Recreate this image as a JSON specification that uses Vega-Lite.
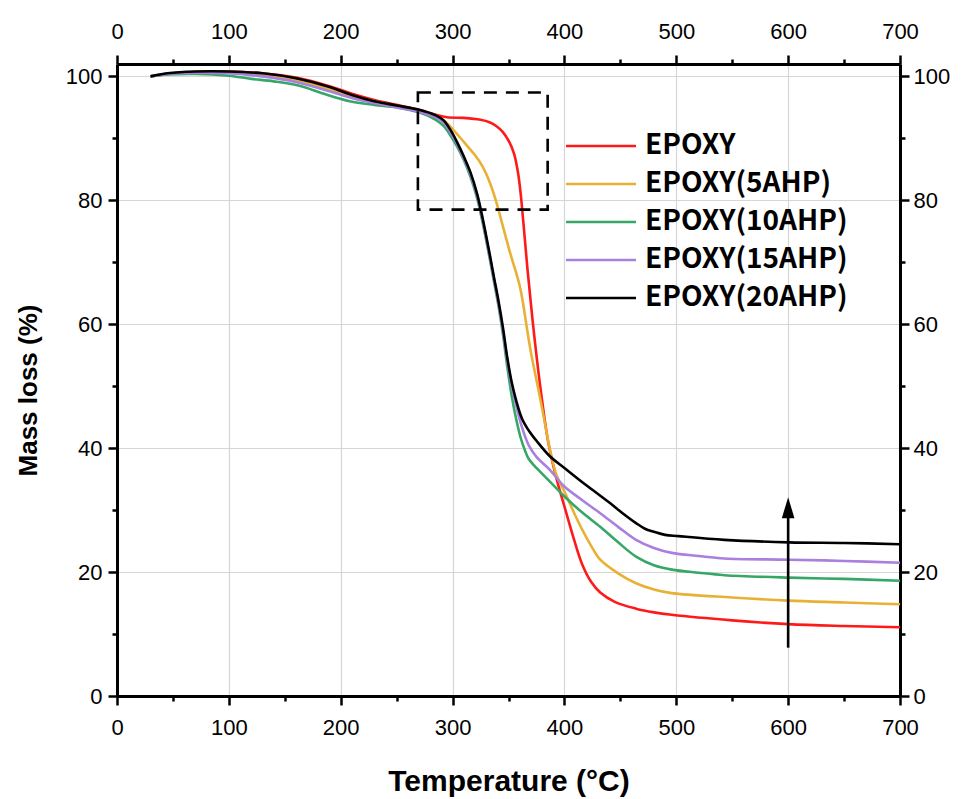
{
  "$schema": "https://vega.github.io/schema/vega-lite/v6.json",
  "width": 783,
  "height": 632,
  "autosize": {"type": "none"},
  "padding": {"left": 117, "top": 64, "right": 66, "bottom": 103},
  "background": "white",
  "config": {
    "view": {"stroke": null},
    "axis": {
      "domainColor": "black", "domainWidth": 3, "tickColor": "black", "tickWidth": 2.5,
      "labelFont": "Liberation Sans", "labelFontSize": 22, "labelColor": "black",
      "titleFont": "Liberation Sans", "titleFontWeight": "bold", "titleColor": "black",
      "labelFlush": false, "labelOverlap": false, "gridColor": "#d6d6d6", "gridWidth": 1.2
    }
  },
  "datasets": {
    "curves": [
      {"T":30,"mass":100.0,"sample":"EPOXY"},{"T":45,"mass":100.4,"sample":"EPOXY"},{"T":70,"mass":100.7,"sample":"EPOXY"},{"T":100,"mass":100.8,"sample":"EPOXY"},{"T":130,"mass":100.5,"sample":"EPOXY"},{"T":160,"mass":99.8,"sample":"EPOXY"},{"T":190,"mass":98.4,"sample":"EPOXY"},{"T":210,"mass":97.2,"sample":"EPOXY"},{"T":230,"mass":96.2,"sample":"EPOXY"},{"T":250,"mass":95.4,"sample":"EPOXY"},{"T":270,"mass":94.6,"sample":"EPOXY"},{"T":285,"mass":93.8,"sample":"EPOXY"},{"T":295,"mass":93.4,"sample":"EPOXY"},{"T":310,"mass":93.3,"sample":"EPOXY"},{"T":325,"mass":93.0,"sample":"EPOXY"},{"T":333,"mass":92.6,"sample":"EPOXY"},{"T":339,"mass":92.0,"sample":"EPOXY"},{"T":345,"mass":91.0,"sample":"EPOXY"},{"T":351,"mass":89.3,"sample":"EPOXY"},{"T":355,"mass":87.5,"sample":"EPOXY"},{"T":358,"mass":85.0,"sample":"EPOXY"},{"T":360,"mass":82.5,"sample":"EPOXY"},{"T":361.5,"mass":80.0,"sample":"EPOXY"},{"T":364,"mass":75.0,"sample":"EPOXY"},{"T":367,"mass":68.8,"sample":"EPOXY"},{"T":371.6,"mass":60.5,"sample":"EPOXY"},{"T":378,"mass":50.5,"sample":"EPOXY"},{"T":385,"mass":41.5,"sample":"EPOXY"},{"T":390,"mass":37.2,"sample":"EPOXY"},{"T":395,"mass":33.7,"sample":"EPOXY"},{"T":400,"mass":30.6,"sample":"EPOXY"},{"T":408,"mass":25.6,"sample":"EPOXY"},{"T":416,"mass":21.2,"sample":"EPOXY"},{"T":424,"mass":18.4,"sample":"EPOXY"},{"T":432,"mass":16.7,"sample":"EPOXY"},{"T":445,"mass":15.2,"sample":"EPOXY"},{"T":464,"mass":14.1,"sample":"EPOXY"},{"T":480,"mass":13.5,"sample":"EPOXY"},{"T":496,"mass":13.1,"sample":"EPOXY"},{"T":550,"mass":12.2,"sample":"EPOXY"},{"T":600,"mass":11.6,"sample":"EPOXY"},{"T":650,"mass":11.3,"sample":"EPOXY"},{"T":700,"mass":11.1,"sample":"EPOXY"},

      {"T":30,"mass":100.0,"sample":"EPOXY(5AHP)"},{"T":45,"mass":100.4,"sample":"EPOXY(5AHP)"},{"T":70,"mass":100.7,"sample":"EPOXY(5AHP)"},{"T":100,"mass":100.7,"sample":"EPOXY(5AHP)"},{"T":130,"mass":100.3,"sample":"EPOXY(5AHP)"},{"T":160,"mass":99.4,"sample":"EPOXY(5AHP)"},{"T":190,"mass":97.9,"sample":"EPOXY(5AHP)"},{"T":210,"mass":96.8,"sample":"EPOXY(5AHP)"},{"T":230,"mass":96.0,"sample":"EPOXY(5AHP)"},{"T":250,"mass":95.2,"sample":"EPOXY(5AHP)"},{"T":270,"mass":94.5,"sample":"EPOXY(5AHP)"},{"T":285,"mass":93.6,"sample":"EPOXY(5AHP)"},{"T":292,"mass":92.9,"sample":"EPOXY(5AHP)"},{"T":297,"mass":92.1,"sample":"EPOXY(5AHP)"},{"T":305,"mass":90.5,"sample":"EPOXY(5AHP)"},{"T":313,"mass":88.8,"sample":"EPOXY(5AHP)"},{"T":320,"mass":87.3,"sample":"EPOXY(5AHP)"},{"T":327,"mass":85.4,"sample":"EPOXY(5AHP)"},{"T":333,"mass":83.0,"sample":"EPOXY(5AHP)"},{"T":339,"mass":79.8,"sample":"EPOXY(5AHP)"},{"T":345,"mass":75.8,"sample":"EPOXY(5AHP)"},{"T":351,"mass":71.8,"sample":"EPOXY(5AHP)"},{"T":356,"mass":68.8,"sample":"EPOXY(5AHP)"},{"T":360,"mass":66.2,"sample":"EPOXY(5AHP)"},{"T":363,"mass":63.4,"sample":"EPOXY(5AHP)"},{"T":366,"mass":59.9,"sample":"EPOXY(5AHP)"},{"T":370,"mass":55.5,"sample":"EPOXY(5AHP)"},{"T":375,"mass":51.0,"sample":"EPOXY(5AHP)"},{"T":380,"mass":46.5,"sample":"EPOXY(5AHP)"},{"T":384,"mass":42.6,"sample":"EPOXY(5AHP)"},{"T":388,"mass":39.0,"sample":"EPOXY(5AHP)"},{"T":393,"mass":35.6,"sample":"EPOXY(5AHP)"},{"T":400,"mass":33.0,"sample":"EPOXY(5AHP)"},{"T":408,"mass":29.8,"sample":"EPOXY(5AHP)"},{"T":416,"mass":26.8,"sample":"EPOXY(5AHP)"},{"T":424,"mass":24.2,"sample":"EPOXY(5AHP)"},{"T":432,"mass":22.0,"sample":"EPOXY(5AHP)"},{"T":448,"mass":19.8,"sample":"EPOXY(5AHP)"},{"T":464,"mass":18.2,"sample":"EPOXY(5AHP)"},{"T":480,"mass":17.2,"sample":"EPOXY(5AHP)"},{"T":496,"mass":16.6,"sample":"EPOXY(5AHP)"},{"T":550,"mass":15.9,"sample":"EPOXY(5AHP)"},{"T":600,"mass":15.4,"sample":"EPOXY(5AHP)"},{"T":650,"mass":15.1,"sample":"EPOXY(5AHP)"},{"T":700,"mass":14.8,"sample":"EPOXY(5AHP)"},

      {"T":30,"mass":100.0,"sample":"EPOXY(10AHP)"},{"T":45,"mass":100.3,"sample":"EPOXY(10AHP)"},{"T":70,"mass":100.4,"sample":"EPOXY(10AHP)"},{"T":100,"mass":100.1,"sample":"EPOXY(10AHP)"},{"T":120,"mass":99.6,"sample":"EPOXY(10AHP)"},{"T":140,"mass":99.2,"sample":"EPOXY(10AHP)"},{"T":163,"mass":98.5,"sample":"EPOXY(10AHP)"},{"T":185,"mass":97.2,"sample":"EPOXY(10AHP)"},{"T":208,"mass":96.0,"sample":"EPOXY(10AHP)"},{"T":230,"mass":95.4,"sample":"EPOXY(10AHP)"},{"T":250,"mass":95.0,"sample":"EPOXY(10AHP)"},{"T":270,"mass":94.2,"sample":"EPOXY(10AHP)"},{"T":285,"mass":93.0,"sample":"EPOXY(10AHP)"},{"T":292,"mass":92.0,"sample":"EPOXY(10AHP)"},{"T":298,"mass":90.5,"sample":"EPOXY(10AHP)"},{"T":304,"mass":88.7,"sample":"EPOXY(10AHP)"},{"T":310,"mass":86.5,"sample":"EPOXY(10AHP)"},{"T":316,"mass":83.8,"sample":"EPOXY(10AHP)"},{"T":322,"mass":80.3,"sample":"EPOXY(10AHP)"},{"T":327,"mass":76.3,"sample":"EPOXY(10AHP)"},{"T":333,"mass":70.8,"sample":"EPOXY(10AHP)"},{"T":337,"mass":66.9,"sample":"EPOXY(10AHP)"},{"T":341,"mass":63.0,"sample":"EPOXY(10AHP)"},{"T":345,"mass":58.4,"sample":"EPOXY(10AHP)"},{"T":349,"mass":53.0,"sample":"EPOXY(10AHP)"},{"T":353,"mass":48.3,"sample":"EPOXY(10AHP)"},{"T":357,"mass":44.6,"sample":"EPOXY(10AHP)"},{"T":361,"mass":41.6,"sample":"EPOXY(10AHP)"},{"T":365,"mass":39.5,"sample":"EPOXY(10AHP)"},{"T":368,"mass":38.3,"sample":"EPOXY(10AHP)"},{"T":375,"mass":36.8,"sample":"EPOXY(10AHP)"},{"T":387,"mass":34.6,"sample":"EPOXY(10AHP)"},{"T":400,"mass":32.2,"sample":"EPOXY(10AHP)"},{"T":416,"mass":29.6,"sample":"EPOXY(10AHP)"},{"T":432,"mass":27.3,"sample":"EPOXY(10AHP)"},{"T":448,"mass":24.8,"sample":"EPOXY(10AHP)"},{"T":464,"mass":22.5,"sample":"EPOXY(10AHP)"},{"T":480,"mass":21.1,"sample":"EPOXY(10AHP)"},{"T":496,"mass":20.4,"sample":"EPOXY(10AHP)"},{"T":520,"mass":19.9,"sample":"EPOXY(10AHP)"},{"T":543,"mass":19.5,"sample":"EPOXY(10AHP)"},{"T":601,"mass":19.1,"sample":"EPOXY(10AHP)"},{"T":650,"mass":18.9,"sample":"EPOXY(10AHP)"},{"T":700,"mass":18.6,"sample":"EPOXY(10AHP)"},

      {"T":30,"mass":100.0,"sample":"EPOXY(15AHP)"},{"T":45,"mass":100.4,"sample":"EPOXY(15AHP)"},{"T":70,"mass":100.6,"sample":"EPOXY(15AHP)"},{"T":100,"mass":100.5,"sample":"EPOXY(15AHP)"},{"T":130,"mass":100.0,"sample":"EPOXY(15AHP)"},{"T":160,"mass":99.1,"sample":"EPOXY(15AHP)"},{"T":190,"mass":97.6,"sample":"EPOXY(15AHP)"},{"T":210,"mass":96.5,"sample":"EPOXY(15AHP)"},{"T":230,"mass":95.7,"sample":"EPOXY(15AHP)"},{"T":250,"mass":95.0,"sample":"EPOXY(15AHP)"},{"T":270,"mass":94.3,"sample":"EPOXY(15AHP)"},{"T":285,"mass":93.4,"sample":"EPOXY(15AHP)"},{"T":292,"mass":92.6,"sample":"EPOXY(15AHP)"},{"T":298,"mass":91.0,"sample":"EPOXY(15AHP)"},{"T":304,"mass":89.1,"sample":"EPOXY(15AHP)"},{"T":310,"mass":86.8,"sample":"EPOXY(15AHP)"},{"T":316,"mass":84.2,"sample":"EPOXY(15AHP)"},{"T":322,"mass":80.7,"sample":"EPOXY(15AHP)"},{"T":327,"mass":76.7,"sample":"EPOXY(15AHP)"},{"T":333,"mass":71.2,"sample":"EPOXY(15AHP)"},{"T":337,"mass":67.3,"sample":"EPOXY(15AHP)"},{"T":341,"mass":63.4,"sample":"EPOXY(15AHP)"},{"T":345,"mass":59.0,"sample":"EPOXY(15AHP)"},{"T":349,"mass":54.0,"sample":"EPOXY(15AHP)"},{"T":353,"mass":50.0,"sample":"EPOXY(15AHP)"},{"T":357,"mass":46.8,"sample":"EPOXY(15AHP)"},{"T":361,"mass":44.0,"sample":"EPOXY(15AHP)"},{"T":365,"mass":41.8,"sample":"EPOXY(15AHP)"},{"T":368,"mass":40.5,"sample":"EPOXY(15AHP)"},{"T":375,"mass":38.6,"sample":"EPOXY(15AHP)"},{"T":387,"mass":36.5,"sample":"EPOXY(15AHP)"},{"T":400,"mass":33.8,"sample":"EPOXY(15AHP)"},{"T":416,"mass":31.6,"sample":"EPOXY(15AHP)"},{"T":432,"mass":29.5,"sample":"EPOXY(15AHP)"},{"T":448,"mass":27.3,"sample":"EPOXY(15AHP)"},{"T":464,"mass":25.2,"sample":"EPOXY(15AHP)"},{"T":480,"mass":23.9,"sample":"EPOXY(15AHP)"},{"T":496,"mass":23.1,"sample":"EPOXY(15AHP)"},{"T":520,"mass":22.6,"sample":"EPOXY(15AHP)"},{"T":543,"mass":22.2,"sample":"EPOXY(15AHP)"},{"T":601,"mass":22.0,"sample":"EPOXY(15AHP)"},{"T":650,"mass":21.8,"sample":"EPOXY(15AHP)"},{"T":700,"mass":21.5,"sample":"EPOXY(15AHP)"},

      {"T":30,"mass":100.0,"sample":"EPOXY(20AHP)"},{"T":45,"mass":100.5,"sample":"EPOXY(20AHP)"},{"T":70,"mass":100.8,"sample":"EPOXY(20AHP)"},{"T":100,"mass":100.8,"sample":"EPOXY(20AHP)"},{"T":130,"mass":100.5,"sample":"EPOXY(20AHP)"},{"T":160,"mass":99.7,"sample":"EPOXY(20AHP)"},{"T":190,"mass":98.3,"sample":"EPOXY(20AHP)"},{"T":210,"mass":97.0,"sample":"EPOXY(20AHP)"},{"T":230,"mass":96.0,"sample":"EPOXY(20AHP)"},{"T":250,"mass":95.3,"sample":"EPOXY(20AHP)"},{"T":270,"mass":94.6,"sample":"EPOXY(20AHP)"},{"T":285,"mass":93.7,"sample":"EPOXY(20AHP)"},{"T":292,"mass":92.9,"sample":"EPOXY(20AHP)"},{"T":298,"mass":91.4,"sample":"EPOXY(20AHP)"},{"T":304,"mass":89.4,"sample":"EPOXY(20AHP)"},{"T":310,"mass":87.1,"sample":"EPOXY(20AHP)"},{"T":316,"mass":84.5,"sample":"EPOXY(20AHP)"},{"T":322,"mass":81.0,"sample":"EPOXY(20AHP)"},{"T":327,"mass":77.0,"sample":"EPOXY(20AHP)"},{"T":333,"mass":71.5,"sample":"EPOXY(20AHP)"},{"T":337,"mass":67.6,"sample":"EPOXY(20AHP)"},{"T":341,"mass":63.8,"sample":"EPOXY(20AHP)"},{"T":345,"mass":59.5,"sample":"EPOXY(20AHP)"},{"T":349,"mass":54.5,"sample":"EPOXY(20AHP)"},{"T":353,"mass":50.5,"sample":"EPOXY(20AHP)"},{"T":357,"mass":47.6,"sample":"EPOXY(20AHP)"},{"T":362,"mass":44.8,"sample":"EPOXY(20AHP)"},{"T":369,"mass":42.6,"sample":"EPOXY(20AHP)"},{"T":375,"mass":41.2,"sample":"EPOXY(20AHP)"},{"T":387,"mass":38.7,"sample":"EPOXY(20AHP)"},{"T":400,"mass":36.8,"sample":"EPOXY(20AHP)"},{"T":416,"mass":34.5,"sample":"EPOXY(20AHP)"},{"T":430,"mass":32.6,"sample":"EPOXY(20AHP)"},{"T":441,"mass":31.1,"sample":"EPOXY(20AHP)"},{"T":452,"mass":29.5,"sample":"EPOXY(20AHP)"},{"T":464,"mass":27.9,"sample":"EPOXY(20AHP)"},{"T":472,"mass":27.0,"sample":"EPOXY(20AHP)"},{"T":480,"mass":26.5,"sample":"EPOXY(20AHP)"},{"T":490,"mass":26.0,"sample":"EPOXY(20AHP)"},{"T":502,"mass":25.8,"sample":"EPOXY(20AHP)"},{"T":543,"mass":25.2,"sample":"EPOXY(20AHP)"},{"T":601,"mass":24.8,"sample":"EPOXY(20AHP)"},{"T":650,"mass":24.7,"sample":"EPOXY(20AHP)"},{"T":700,"mass":24.5,"sample":"EPOXY(20AHP)"}
    ],
    "box": [{"x1": 269, "x2": 385, "y1": 78.5, "y2": 97.4}],
    "arrow": [{"T": 600, "low": 7.8, "high": 30.0, "head": 30.4}]
  },
  "layer": [
    {
      "data": {"name": "curves"},
      "mark": {"type": "line", "strokeWidth": 2.6, "interpolate": "catmull-rom", "clip": true},
      "encoding": {
        "x": {
          "field": "T", "type": "quantitative",
          "scale": {"domain": [0, 700], "nice": false},
          "axis": {
            "orient": "bottom", "title": "Temperature (°C)", "titleFontSize": 30, "titlePadding": 28,
            "values": [0,50,100,150,200,250,300,350,400,450,500,550,600,650,700],
            "labelExpr": "datum.value % 100 === 0 ? datum.label : ''",
            "tickSize": {"condition": {"test": "datum.value % 100 === 0", "value": 9}, "value": 5},
            "gridOpacity": {"condition": {"test": "datum.value % 100 === 0", "value": 1}, "value": 0},
            "grid": true, "labelPadding": 12
          }
        },
        "y": {
          "field": "mass", "type": "quantitative",
          "scale": {"domain": [0, 102], "nice": false},
          "axis": {
            "orient": "left", "title": "Mass loss (%)", "titleFontSize": 26, "titlePadding": 24, "titleY": 326,
            "values": [0,10,20,30,40,50,60,70,80,90,100],
            "labelExpr": "datum.value % 20 === 0 ? datum.label : ''",
            "tickSize": {"condition": {"test": "datum.value % 20 === 0", "value": 9}, "value": 5},
            "gridOpacity": {"condition": {"test": "datum.value % 20 === 0", "value": 1}, "value": 0},
            "grid": true, "labelPadding": 6
          }
        },
        "color": {
          "field": "sample", "type": "nominal",
          "scale": {
            "domain": ["EPOXY", "EPOXY(5AHP)", "EPOXY(10AHP)", "EPOXY(15AHP)", "EPOXY(20AHP)"],
            "range": ["#ff1a1a", "#e8b134", "#36a767", "#a97fe0", "#000000"]
          },
          "legend": {
            "title": null, "orient": "none", "legendX": 470, "legendY": 68, "padding": 0,
            "symbolType": "M-5,0H5", "symbolSize": 196, "symbolStrokeWidth": 2.6,
            "labelOffset": 30, "labelFont": "Noto Sans CJK SC", "labelFontSize": 28,
            "labelFontWeight": "bold", "labelColor": "black", "rowPadding": 10, "labelLimit": 400
          }
        }
      }
    },
    {
      "data": {"name": "box"},
      "mark": {"type": "rect", "fill": null, "fillOpacity": 0, "stroke": "black", "strokeWidth": 2.6, "strokeDash": [13, 9]},
      "encoding": {
        "x": {
          "field": "x1", "type": "quantitative",
          "axis": {
            "orient": "top", "title": null, "grid": false,
            "values": [0,50,100,150,200,250,300,350,400,450,500,550,600,650,700],
            "labelExpr": "datum.value % 100 === 0 ? datum.label : ''",
            "tickSize": {"condition": {"test": "datum.value % 100 === 0", "value": 9}, "value": 5},
            "labelPadding": 12
          }
        },
        "x2": {"field": "x2"},
        "y": {
          "field": "y1", "type": "quantitative",
          "axis": {
            "orient": "right", "title": null, "grid": false,
            "values": [0,10,20,30,40,50,60,70,80,90,100],
            "labelExpr": "datum.value % 20 === 0 ? datum.label : ''",
            "tickSize": {"condition": {"test": "datum.value % 20 === 0", "value": 9}, "value": 5},
            "labelPadding": 4
          }
        },
        "y2": {"field": "y2"}
      }
    },
    {
      "data": {"name": "arrow"},
      "mark": {"type": "rule", "stroke": "black", "strokeWidth": 2.6},
      "encoding": {
        "x": {"field": "T", "type": "quantitative", "axis": null},
        "y": {"field": "low", "type": "quantitative", "axis": null},
        "y2": {"field": "high"}
      }
    },
    {
      "data": {"name": "arrow"},
      "mark": {"type": "point", "shape": "M0,-1L0.6,1L-0.6,1Z", "size": 441, "filled": true, "fill": "black", "stroke": null, "opacity": 1},
      "encoding": {
        "x": {"field": "T", "type": "quantitative", "axis": null},
        "y": {"field": "head", "type": "quantitative", "axis": null}
      }
    }
  ],
  "resolve": {"axis": {"x": "independent", "y": "independent"}}
}
